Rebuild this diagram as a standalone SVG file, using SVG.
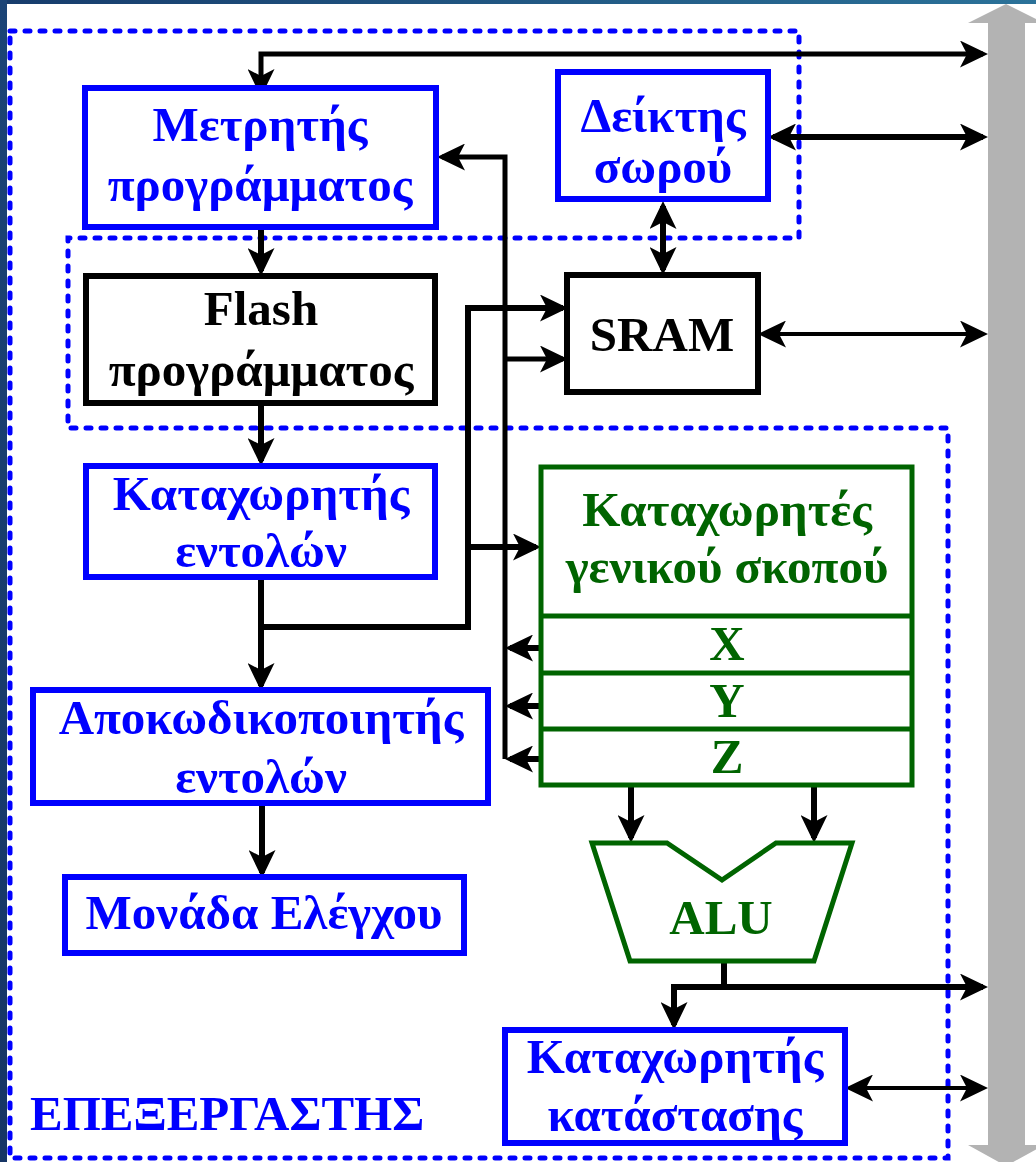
<svg xmlns="http://www.w3.org/2000/svg" width="1036" height="1162" viewBox="0 0 1036 1162">
  <style>
    .t { font-family: "Liberation Serif", "Times New Roman", serif; font-weight: bold; font-size: 49px; text-anchor: middle; }
    .blue { fill: #0000ff; }
    .green { fill: #006400; }
    .black { fill: #000000; }
    .box-b { fill: #ffffff; stroke: #0000ff; stroke-width: 6; }
    .box-k { fill: #ffffff; stroke: #000000; stroke-width: 6; }
    .box-g { fill: #ffffff; stroke: #006400; stroke-width: 5; }
    .wire { fill: none; stroke: #000000; stroke-width: 6; }
    .thin { stroke-width: 4; }
    .one { marker-end: url(#head); }
    .two { marker-start: url(#head); marker-end: url(#head); }
  </style>
  <defs>
    <linearGradient id="topband" x1="0" y1="0" x2="1" y2="0">
      <stop offset="0" stop-color="#173c6c"/>
      <stop offset="1" stop-color="#2b7299"/>
    </linearGradient>
    <linearGradient id="sideband" x1="0" y1="0" x2="0" y2="1">
      <stop offset="0" stop-color="#1b4476"/>
      <stop offset="1" stop-color="#163565"/>
    </linearGradient>
    <marker id="head" markerUnits="userSpaceOnUse" markerWidth="28" markerHeight="27" refX="23" refY="13.5" orient="auto-start-reverse" viewBox="0 0 28 27">
      <path d="M0,0 L28,13.5 L0,27 L7,13.5 Z" fill="#000000"/>
    </marker>
  </defs>

  <!-- page background and frame -->
  <rect x="0" y="0" width="1036" height="1162" fill="#ffffff"/>
  <rect x="0" y="0" width="1036" height="4" fill="url(#topband)"/>
  <rect x="0" y="0" width="7" height="1162" fill="url(#sideband)"/>

  <!-- system bus (double-headed grey arrow) -->
  <g id="bus">
    <path d="M1006,4 L1044,23 L1025,23 L1025,1145 L1044,1145 L1006,1166 L968,1145 L988,1145 L988,23 L968,23 Z" fill="#b3b3b3"/>
  </g>

  <!-- processor boundary (memories are left outside) -->
  <g id="cpu-boundary">
    <path d="M10,31 H799 V238 H68 V428 H948 V1158 H10 Z" fill="none" stroke="#0000ff" stroke-width="5" stroke-dasharray="5 10" stroke-linecap="round"/>
    <text class="t blue" x="30" y="1130" style="text-anchor:start">ΕΠΕΞΕΡΓΑΣΤΗΣ</text>
  </g>

  <!-- connectors -->
  <g id="connectors">
    <polyline class="wire two" style="stroke-width:5" points="261,92 261,54 983,54"/>
    <line class="wire two" x1="773" y1="137" x2="983" y2="137"/>
    <line class="wire two" x1="663" y1="206" x2="663" y2="270"/>
    <line class="wire thin two" x1="763" y1="334" x2="983" y2="334"/>
    <line class="wire one" x1="261" y1="227" x2="261" y2="271"/>
    <line class="wire one" x1="261" y1="403" x2="261" y2="461"/>
    <line class="wire one" x1="261" y1="578" x2="261" y2="686"/>
    <polyline class="wire one" points="261,627 468,627 468,308 563,308"/>
    <line class="wire one" x1="468" y1="547" x2="536" y2="547"/>
    <polyline class="wire one" style="stroke-width:5" points="505,759 505,157 442,157"/>
    <line class="wire one" style="stroke-width:5" x1="505" y1="359" x2="563" y2="359"/>
    <line class="wire one" x1="541" y1="648" x2="510" y2="648"/>
    <line class="wire one" x1="541" y1="706" x2="510" y2="706"/>
    <line class="wire one" x1="541" y1="759" x2="510" y2="759"/>
    <line class="wire one" x1="262" y1="803" x2="262" y2="873"/>
    <line class="wire one" x1="631" y1="785" x2="631" y2="838"/>
    <line class="wire one" x1="814" y1="785" x2="814" y2="838"/>
    <line class="wire" x1="724" y1="961" x2="724" y2="987"/>
    <polyline class="wire two" points="674,1025 674,987 983,987"/>
    <line class="wire thin two" x1="850" y1="1088" x2="983" y2="1088"/>
  </g>

  <!-- program counter -->
  <g id="pc">
    <rect class="box-b" x="85" y="88" width="351" height="139"/>
    <text class="t blue" x="260" y="141">Μετρητής</text>
    <text class="t blue" x="260" y="201">προγράμματος</text>
  </g>

  <!-- stack pointer -->
  <g id="sp">
    <rect class="box-b" x="558" y="72" width="210" height="127"/>
    <text class="t blue" x="663" y="132">Δείκτης</text>
    <text class="t blue" x="663" y="183">σωρού</text>
  </g>

  <!-- program flash -->
  <g id="flash">
    <rect class="box-k" x="86" y="276" width="349" height="127"/>
    <text class="t black" x="261" y="325">Flash</text>
    <text class="t black" x="261" y="386">προγράμματος</text>
  </g>

  <!-- SRAM -->
  <g id="sram">
    <rect class="box-k" x="567" y="275" width="191" height="117"/>
    <text class="t black" x="662" y="351">SRAM</text>
  </g>

  <!-- instruction register -->
  <g id="ir">
    <rect class="box-b" x="86" y="466" width="349" height="111"/>
    <text class="t blue" x="261" y="510">Καταχωρητής</text>
    <text class="t blue" x="261" y="567">εντολών</text>
  </g>

  <!-- general purpose register file with X, Y, Z pointers -->
  <g id="gpr">
    <rect class="box-g" x="541" y="467" width="371" height="318"/>
    <line x1="541" y1="616" x2="912" y2="616" stroke="#006400" stroke-width="5"/>
    <line x1="541" y1="673" x2="912" y2="673" stroke="#006400" stroke-width="5"/>
    <line x1="541" y1="729" x2="912" y2="729" stroke="#006400" stroke-width="5"/>
    <text class="t green" x="727" y="526">Καταχωρητές</text>
    <text class="t green" x="727" y="583">γενικού σκοπού</text>
    <text class="t green" x="727" y="660">X</text>
    <text class="t green" x="727" y="717">Y</text>
    <text class="t green" x="727" y="773">Z</text>
  </g>

  <!-- instruction decoder -->
  <g id="decoder">
    <rect class="box-b" x="33" y="690" width="455" height="113"/>
    <text class="t blue" x="261" y="734">Αποκωδικοποιητής</text>
    <text class="t blue" x="261" y="793">εντολών</text>
  </g>

  <!-- control unit -->
  <g id="control">
    <rect class="box-b" x="65" y="877" width="399" height="76"/>
    <text class="t blue" x="264" y="929">Μονάδα Ελέγχου</text>
  </g>

  <!-- ALU -->
  <g id="alu">
    <path d="M592,843 H667 L722,880 L776,843 H852 L814,961 H630 Z" fill="#ffffff" stroke="#006400" stroke-width="5" stroke-linejoin="miter"/>
    <text class="t green" x="721" y="934">ALU</text>
  </g>

  <!-- status register -->
  <g id="sreg">
    <rect class="box-b" x="505" y="1030" width="340" height="113"/>
    <text class="t blue" x="675" y="1073">Καταχωρητής</text>
    <text class="t blue" x="675" y="1131">κατάστασης</text>
  </g>
</svg>
